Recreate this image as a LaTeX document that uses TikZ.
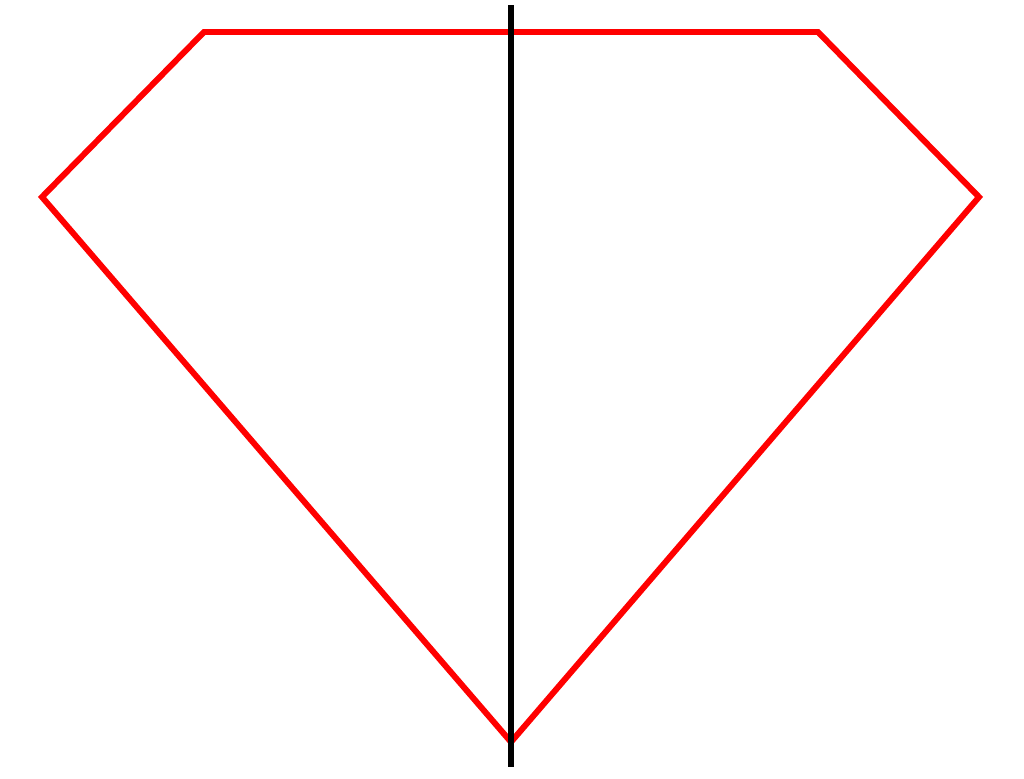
\documentclass[tikz,border=0pt]{standalone}
\begin{document}
\begin{tikzpicture}[x=0.01cm,y=-0.01cm,
  outline/.style={draw=red,line width=1.7pt,line join=miter},
  axis/.style={draw=black,line width=1.7pt}]
\useasboundingbox (0,0) rectangle (1024,778);
\coordinate (tl) at (204,32);
\coordinate (tr) at (818,32);
\coordinate (r) at (979,197);
\coordinate (b) at (511,742);
\coordinate (l) at (42,197);
\coordinate (top) at (511,5);
\coordinate (bot) at (511,767);
\draw[outline] (tl) -- (tr) -- (r) -- (b) -- (l) -- cycle;
\draw[axis] (top) -- (bot);
\end{tikzpicture}
\end{document}
